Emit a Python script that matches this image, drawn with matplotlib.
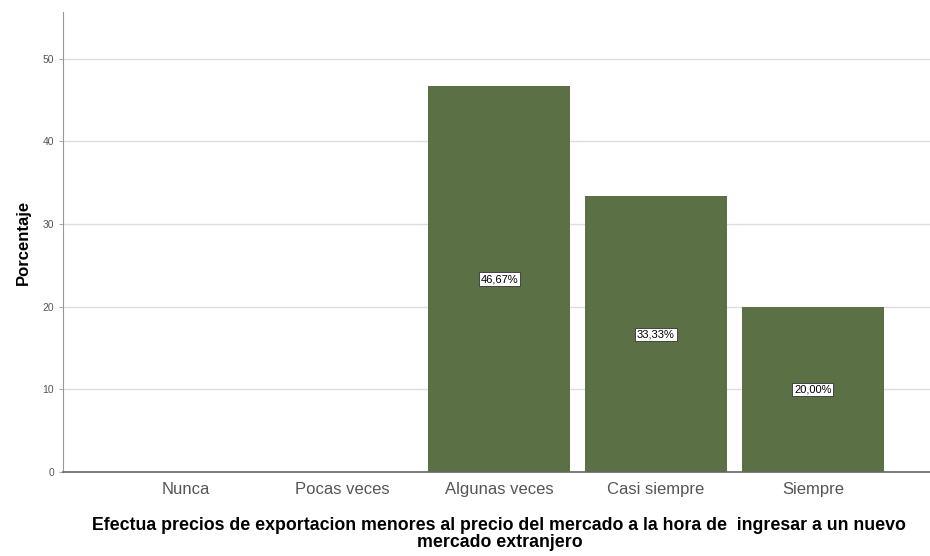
import matplotlib.pyplot as plt

plt.rcParams['font.family'] = ['Liberation Sans', 'DejaVu Sans']

categorias = ['Nunca', 'Pocas veces', 'Algunas veces', 'Casi siempre', 'Siempre']
porcentajes = [0, 0, 46.67, 33.33, 20.00]
etiquetas = ['', '', '46,67%', '33,33%', '20,00%']
yticks = [0, 10, 20, 30, 40, 50]

fig = plt.figure(figsize=(9.3, 5.56), dpi=100)
ax = fig.add_axes([0.0677, 0.151, 0.932, 0.827])

x = list(range(len(categorias)))
barras = ax.bar(x, porcentajes, width=0.905, color='#5b7045', zorder=2)

for b, v, txt in zip(barras, porcentajes, etiquetas):
    if v > 0:
        ax.text(b.get_x() + b.get_width() / 2, v / 2, txt, ha='center', va='center',
                fontsize=8, color='black', zorder=3,
                bbox=dict(boxstyle='square,pad=0.15', fc='white', ec='#333333', lw=0.6))

ax.set_xlim(-0.78, 4.745)
ax.set_ylim(0, 55.6)
ax.set_yticks(yticks)
ax.set_xticks(x)
ax.set_xticklabels(categorias, fontsize=12, color='#555555')
ax.tick_params(axis='y', labelsize=7.5, colors='#555555', length=3, color='#aaaaaa')
ax.tick_params(axis='x', length=0, pad=7)
ax.yaxis.grid(True, color='#dddddd', lw=1, zorder=0)

for s in ['top', 'right']:
    ax.spines[s].set_visible(False)
ax.spines['left'].set_color('#999999')
ax.spines['bottom'].set_color('#666666')
ax.spines['bottom'].set_linewidth(1.2)

ax.set_ylabel('Porcentaje', fontsize=12, fontweight='bold', labelpad=8)
fig.text(0.537, 0.071, 'Efectua precios de exportacion menores al precio del mercado a la hora de  ingresar a un nuevo\nmercado extranjero',
         ha='center', va='top', fontsize=12.8, fontweight='bold', linespacing=1.0)

fig.savefig('out.png', dpi=100)
